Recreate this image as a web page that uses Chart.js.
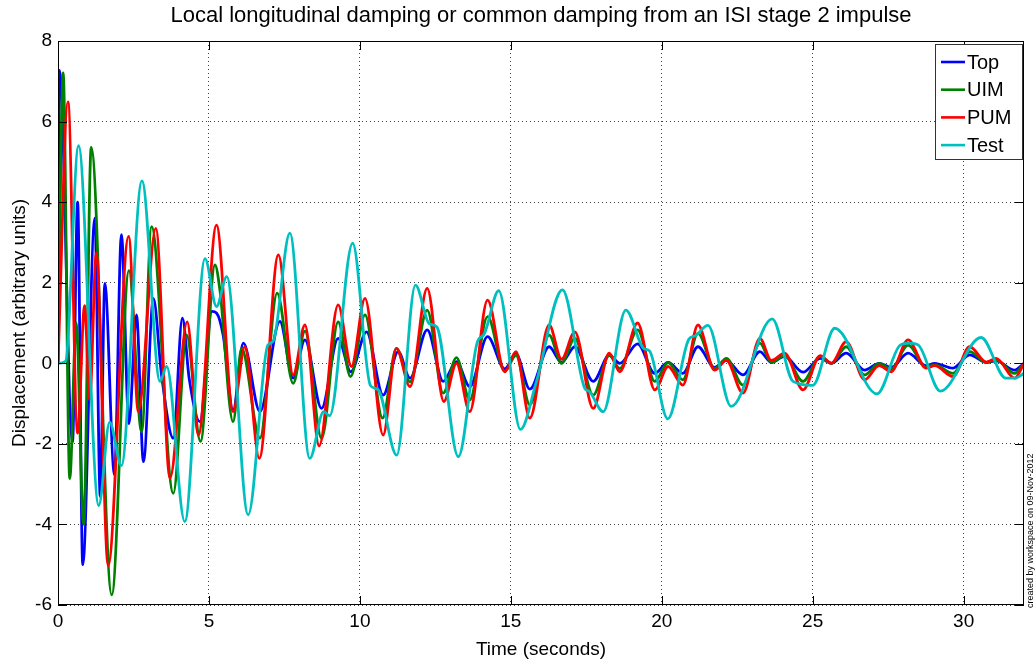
<!DOCTYPE html>
<html>
<head>
<meta charset="utf-8">
<script src="https://cdn.jsdelivr.net/npm/chart.js@4"></script>
<style>
  body { margin: 0; background: #fff; }
  canvas { display: block; }
</style>
</head>
<body>
<canvas id="chart" width="1036" height="669"></canvas>
<script>
const titleText = 'Local longitudinal damping or common damping from an ISI stage 2 impulse'
const xLabel = 'Time (seconds)'
const yLabel = 'Displacement (arbitrary units)'
const seriesNames = ['Top', 'UIM', 'PUM', 'Test']
const xTicks = [0, 5, 10, 15, 20, 25, 30]
const yTicks = [-6, -4, -2, 0, 2, 4, 6, 8]
const stampText = 'created by workspace on 09-Nov-2012'

// extrema and shoulders of each trace
const topT = [0, 0.05, 0.48, 0.65, 0.82, 1.22, 1.4, 1.55, 1.87, 2.1, 2.35, 2.6, 2.83, 3.16, 3.43, 3.82, 4.12, 4.35, 4.7, 5.1, 5.25, 5.47, 5.8, 6.14, 6.69, 7.35, 7.79, 8.18, 8.73, 9.28, 9.7, 10.22, 10.77, 11.27, 11.66, 12.23, 12.76, 13.2, 13.64, 14.23, 14.8, 15.17, 15.63, 16.27, 16.68, 17.12, 17.73, 18.26, 18.61, 19.2, 19.77, 20.21, 20.7, 21.2, 21.75, 22.14, 22.69, 23.25, 23.63, 24.07, 24.68, 25.25, 25.62, 26.11, 26.72, 27.2, 27.6, 28.16, 28.76, 29.04, 29.65, 30.2, 30.75, 31.08, 31.69, 32]
const topY = [0, 7.27, -1.95, 4.0, -5.0, 3.6, -3.3, 1.98, -2.76, 3.19, -1.5, 1.2, -2.44, 1.61, -0.29, -1.86, 1.12, -0.4, -1.45, 1.29, 1.25, 0.7, -1.16, 0.5, -1.2, 1.04, -0.37, 0.58, -1.12, 0.62, -0.21, 0.78, -0.79, 0.29, -0.37, 0.83, -0.45, 0.04, -0.58, 0.66, -0.14, 0.23, -0.64, 0.41, 0.02, 0.41, -0.45, 0.2, 0.0, 0.48, -0.25, 0.02, -0.25, 0.41, -0.1, 0.07, -0.29, 0.29, 0.02, 0.17, -0.22, 0.12, 0.0, 0.25, -0.17, 0.0, -0.1, 0.25, -0.06, 0.0, -0.12, 0.21, 0.02, 0.06, -0.17, 0.0]

const uimT = [0, 0.17, 0.39, 0.6, 0.85, 1.1, 1.78, 2.35, 2.77, 3.1, 3.82, 4.26, 4.72, 5.2, 5.36, 5.8, 6.08, 6.69, 7.26, 7.79, 8.18, 8.73, 9.28, 9.69, 10.17, 10.75, 11.21, 11.66, 12.23, 12.76, 13.2, 13.64, 14.23, 14.8, 15.17, 15.63, 16.27, 16.68, 17.12, 17.73, 18.26, 18.61, 19.2, 19.77, 20.21, 20.7, 21.2, 21.75, 22.14, 22.69, 23.25, 23.63, 24.07, 24.68, 25.25, 25.62, 26.11, 26.72, 27.2, 27.6, 28.16, 28.76, 29.04, 29.65, 30.2, 30.75, 31.08, 31.69, 32]
const uimY = [0, 7.21, -2.86, 1.0, -4.0, 5.36, -5.75, 2.3, -1.7, 3.39, -3.23, 0.7, -1.94, 2.44, 1.84, -1.45, 0.37, -1.86, 1.74, -0.5, 0.8, -1.86, 1.03, -0.33, 1.2, -1.36, 0.37, -0.46, 1.32, -0.74, 0.14, -0.91, 1.16, -0.2, 0.2, -1.03, 0.7, 0.0, 0.62, -0.79, 0.2, -0.13, 0.83, -0.45, 0.02, -0.41, 0.74, -0.13, 0.12, -0.54, 0.5, 0.02, 0.19, -0.45, 0.17, 0.0, 0.41, -0.29, 0.0, -0.14, 0.45, -0.1, -0.04, -0.25, 0.29, 0.02, 0.08, -0.25, 0.0]

const pumT = [0, 0.33, 0.65, 0.88, 1.05, 1.27, 1.66, 2.34, 2.66, 3.24, 3.71, 4.28, 4.65, 5.25, 5.8, 6.19, 6.67, 7.3, 7.79, 8.18, 8.65, 9.28, 9.72, 10.17, 10.77, 11.21, 11.66, 12.23, 12.78, 13.2, 13.64, 14.23, 14.8, 15.17, 15.63, 16.27, 16.68, 17.12, 17.73, 18.26, 18.61, 19.2, 19.77, 20.21, 20.7, 21.2, 21.75, 22.14, 22.69, 23.25, 23.63, 24.07, 24.68, 25.25, 25.62, 26.11, 26.72, 27.2, 27.6, 28.16, 28.76, 29.04, 29.65, 30.2, 30.75, 31.08, 31.69, 32]
const pumY = [0, 6.49, -1.73, 1.43, -0.9, 2.74, -5.02, 3.15, -1.2, 3.35, -2.85, 1.03, -1.78, 3.43, -1.2, 0.41, -2.36, 2.69, -0.29, 0.95, -2.05, 1.45, -0.08, 1.61, -1.78, 0.37, -0.58, 1.86, -0.95, 0.0, -1.2, 1.57, -0.21, 0.29, -1.36, 0.95, 0.1, 0.78, -1.12, 0.25, -0.21, 1.0, -0.66, -0.08, -0.54, 0.95, -0.17, 0.07, -0.74, 0.62, 0.07, 0.25, -0.66, 0.19, 0.0, 0.54, -0.41, -0.06, -0.21, 0.58, -0.12, -0.06, -0.33, 0.41, 0.03, 0.12, -0.37, 0.0]

const testT = [0, 0.25, 0.68, 1.35, 1.71, 2.1, 2.78, 3.38, 3.6, 4.2, 4.87, 5.25, 5.59, 6.3, 6.95, 7.13, 7.68, 8.34, 8.8, 9.0, 9.76, 10.35, 10.6, 11.22, 11.84, 12.3, 12.55, 13.26, 13.9, 14.1, 14.6, 15.32, 15.85, 16.71, 17.45, 17.6, 18.06, 18.81, 19.4, 19.6, 20.2, 20.9, 21.1, 21.53, 22.3, 23.66, 24.35, 25.0, 25.73, 27.13, 27.9, 28.2, 28.5, 29.23, 30.58, 31.4, 31.7, 32]
const testY = [0, 0.05, 5.4, -3.53, -1.46, -2.54, 4.53, -0.45, -0.08, -3.93, 2.6, 1.41, 2.15, -3.76, 0.45, 0.55, 3.23, -2.36, -1.2, -1.3, 2.98, -0.55, -0.65, -2.28, 1.94, 0.98, 0.9, -2.32, 0.55, 0.7, 1.8, -1.64, -0.45, 1.82, -0.62, -0.7, -1.2, 1.32, 0.37, 0.3, -1.38, 0.6, 0.68, 0.94, -1.07, 1.1, -0.45, -0.55, 0.87, -0.76, 0.45, 0.5, 0.45, -0.69, 0.64, -0.37, -0.37, -0.25]

const colores = ['#0000ff', '#008000', '#ff0000', '#00bfbf']
const fuente = '"Liberation Sans", Arial, Helvetica, sans-serif'

function puntos(ts, ys) {
  return ts.map((t, i) => ({ x: t, y: ys[i] }))
}

function serie(i, ts, ys) {
  return {
    label: seriesNames[i],
    data: puntos(ts, ys),
    borderColor: colores[i],
    borderWidth: 2.8,
    pointRadius: 0,
    fill: false,
    cubicInterpolationMode: 'monotone',
    order: 4 - i
  }
}

// title over the axes, box, inward ticks, legend and the small stamp, MATLAB style
const adornos = {
  id: 'adornos',
  afterDatasetsDraw(chart) {
    const { ctx, chartArea: a, scales: { x, y } } = chart
    ctx.save()
    ctx.fillStyle = '#000'
    ctx.font = '22px ' + fuente
    ctx.textAlign = 'center'
    ctx.textBaseline = 'middle'
    ctx.fillText(titleText, (a.left + a.right) / 2, 16)

    ctx.strokeStyle = '#000'
    ctx.lineWidth = 1
    ctx.beginPath()
    xTicks.forEach(v => {
      const px = Math.round(x.getPixelForValue(v)) + 0.5
      ctx.moveTo(px, a.bottom); ctx.lineTo(px, a.bottom - 9)
      ctx.moveTo(px, a.top); ctx.lineTo(px, a.top + 9)
    })
    yTicks.forEach(v => {
      const py = Math.round(y.getPixelForValue(v)) + 0.5
      ctx.moveTo(a.left, py); ctx.lineTo(a.left + 9, py)
      ctx.moveTo(a.right, py); ctx.lineTo(a.right - 9, py)
    })
    ctx.stroke()
    ctx.strokeRect(a.left + 0.5, a.top + 0.5, a.right - a.left - 1, a.bottom - a.top - 1)

    // legend
    const lx = a.right - 89, ly = a.top + 3, lw = 88, lh = 116
    ctx.fillStyle = '#fff'
    ctx.fillRect(lx, ly, lw, lh)
    ctx.strokeStyle = '#333'
    ctx.strokeRect(lx + 0.5, ly + 0.5, lw - 1, lh - 1)
    ctx.font = '20px ' + fuente
    ctx.textBaseline = 'middle'
    ctx.textAlign = 'left'
    chart.data.datasets.forEach((d, i) => {
      const ry = ly + 18 + i * 27.7
      ctx.strokeStyle = d.borderColor
      ctx.lineWidth = 2.6
      ctx.beginPath()
      ctx.moveTo(lx + 6, ry); ctx.lineTo(lx + 30, ry)
      ctx.stroke()
      ctx.fillStyle = '#000'
      ctx.fillText(d.label, lx + 32, ry + 1)
    })

    // stamp on the right edge
    ctx.translate(1031, 608)
    ctx.rotate(-Math.PI / 2)
    ctx.font = '9px ' + fuente
    ctx.fillStyle = '#000'
    ctx.textBaseline = 'middle'
    ctx.fillText(stampText, 0, 0)
    ctx.restore()
  }
}

new Chart(document.getElementById('chart'), {
  type: 'line',
  data: {
    datasets: [
      serie(0, topT, topY),
      serie(1, uimT, uimY),
      serie(2, pumT, pumY),
      serie(3, testT, testY)
    ]
  },
  options: {
    responsive: false,
    animation: false,
    layout: { padding: { left: 0, right: 12, top: 41, bottom: 0 } },
    plugins: {
      legend: { display: false },
      tooltip: { enabled: false },
      title: { display: false }
    },
    scales: {
      x: {
        type: 'linear',
        min: 0,
        max: 32,
        afterFit: s => { s.height = 64 },
        afterBuildTicks: s => { s.ticks = xTicks.map(v => ({ value: v })) },
        ticks: { color: '#000', font: { family: fuente, size: 19 }, padding: 5, maxRotation: 0, autoSkip: false },
        grid: { color: 'rgba(0,0,0,0.75)', drawTicks: false, lineWidth: 1 },
        border: { display: false, dash: [1, 3] },
        title: { display: true, text: xLabel, color: '#000', font: { family: fuente, size: 19 }, padding: { top: 0, bottom: 8 } }
      },
      y: {
        min: -6,
        max: 8,
        afterFit: s => { s.width = 58 },
        afterBuildTicks: s => { s.ticks = yTicks.map(v => ({ value: v })) },
        ticks: { color: '#000', font: { family: fuente, size: 19 }, padding: 6, autoSkip: false },
        grid: { color: 'rgba(0,0,0,0.75)', drawTicks: false, lineWidth: 1 },
        border: { display: false, dash: [1, 3] },
        title: { display: true, text: yLabel, color: '#000', font: { family: fuente, size: 19 }, padding: { top: 8, bottom: 0 } }
      }
    }
  },
  plugins: [adornos]
})
</script>
</body>
</html>
